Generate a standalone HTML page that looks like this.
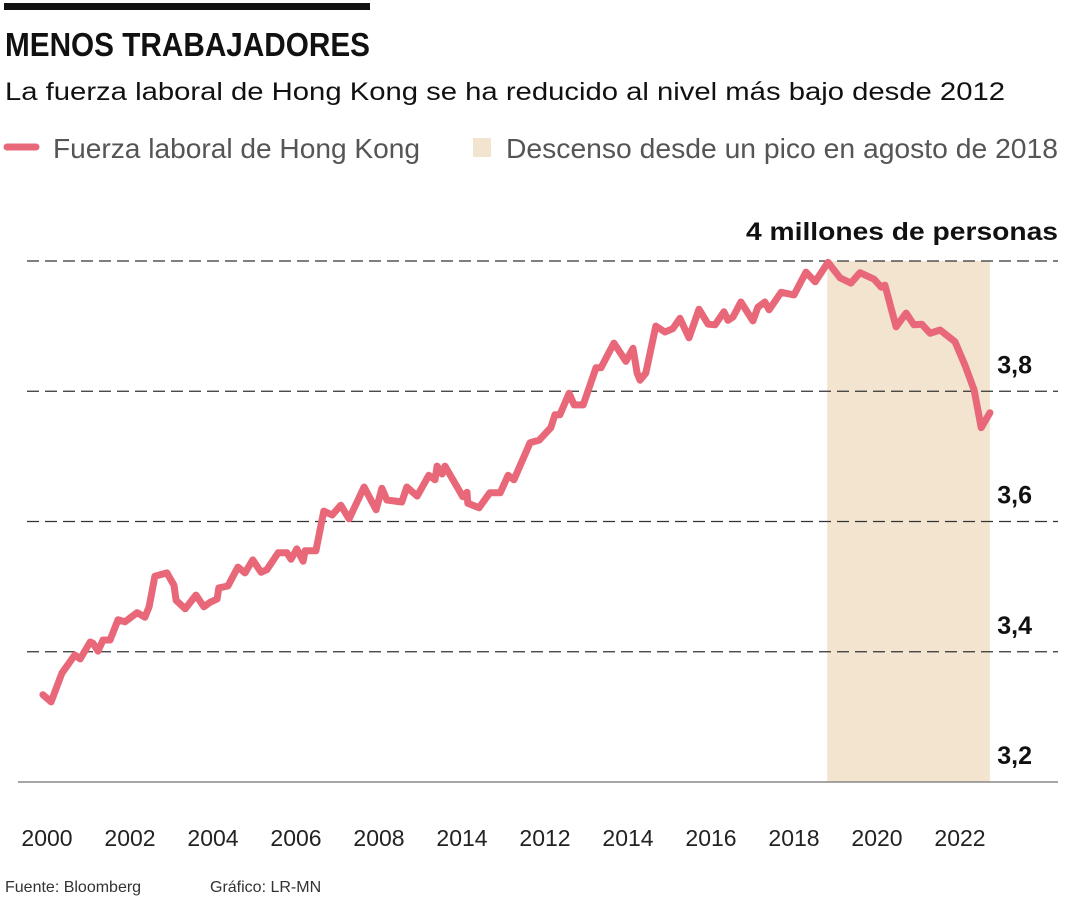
<!DOCTYPE html>
<html><head><meta charset="utf-8"><style>
html,body{margin:0;padding:0;background:#fff;width:1080px;height:900px;overflow:hidden}
svg{display:block;font-family:"Liberation Sans",sans-serif}
</style></head><body>
<svg id="chart" width="1080" height="900" viewBox="0 0 1080 900">
<rect x="4" y="3" width="366" height="7" fill="#111"/>
<text x="5" y="56" font-size="33" font-weight="bold" fill="#111" textLength="365" lengthAdjust="spacingAndGlyphs">MENOS TRABAJADORES</text>
<text x="5" y="100" font-size="25" fill="#111" textLength="1000" lengthAdjust="spacingAndGlyphs">La fuerza laboral de Hong Kong se ha reducido al nivel más bajo desde 2012</text>
<g>
<line x1="7" y1="147" x2="36" y2="147" stroke="#e8687a" stroke-width="7" stroke-linecap="round"/>
<text x="53" y="158" font-size="28" fill="#555" textLength="367" lengthAdjust="spacingAndGlyphs">Fuerza laboral de Hong Kong</text>
<rect x="473" y="138" width="18" height="19" fill="#f3e4d0"/>
<text x="506" y="158" font-size="28" fill="#555" textLength="552" lengthAdjust="spacingAndGlyphs">Descenso desde un pico en agosto de 2018</text>
</g>
<g id="plot"></g>
<text x="1058" y="240" font-size="25" font-weight="bold" fill="#111" text-anchor="end" textLength="312" lengthAdjust="spacingAndGlyphs">4 millones de personas</text>
<text x="5" y="892" font-size="16" fill="#333">Fuente: Bloomberg</text>
<text x="210" y="892" font-size="16" fill="#333">Gráfico: LR-MN</text>
</svg>
<script>
const years = [1999.90,2000.10,2000.36,2000.67,2000.80,2001.04,2001.11,2001.23,2001.35,2001.52,2001.71,2001.88,2002.17,2002.36,2002.46,2002.60,2002.89,2003.06,2003.11,2003.33,2003.59,2003.78,2003.93,2004.10,2004.14,2004.36,2004.60,2004.77,2004.96,2005.16,2005.30,2005.57,2005.78,2005.88,2006.02,2006.17,2006.22,2006.48,2006.67,2006.87,2007.08,2007.28,2007.64,2007.93,2008.07,2008.19,2008.55,2008.67,2008.92,2009.20,2009.35,2009.40,2009.52,2009.59,2010.02,2010.12,2010.14,2010.41,2010.67,2010.92,2011.11,2011.25,2011.64,2011.86,2012.14,2012.24,2012.36,2012.58,2012.70,2012.92,2013.23,2013.35,2013.66,2013.95,2014.12,2014.22,2014.29,2014.43,2014.67,2014.89,2015.08,2015.25,2015.47,2015.71,2015.93,2016.10,2016.31,2016.41,2016.53,2016.72,2017.01,2017.13,2017.30,2017.40,2017.69,2018.00,2018.29,2018.51,2018.82,2019.11,2019.37,2019.59,2019.93,2020.10,2020.19,2020.46,2020.70,2020.89,2021.08,2021.28,2021.52,2021.88,2022.12,2022.34,2022.51,2022.72];
const laborForce = [3.334,3.323,3.367,3.395,3.389,3.415,3.413,3.401,3.418,3.418,3.449,3.446,3.460,3.453,3.469,3.516,3.521,3.502,3.479,3.466,3.487,3.469,3.476,3.481,3.498,3.501,3.530,3.521,3.541,3.522,3.526,3.552,3.552,3.542,3.558,3.539,3.555,3.555,3.616,3.610,3.625,3.604,3.653,3.618,3.651,3.633,3.630,3.653,3.639,3.671,3.664,3.685,3.673,3.685,3.638,3.645,3.628,3.621,3.644,3.644,3.671,3.664,3.721,3.725,3.744,3.764,3.764,3.797,3.779,3.779,3.836,3.836,3.874,3.846,3.866,3.828,3.817,3.828,3.900,3.891,3.896,3.912,3.882,3.926,3.903,3.902,3.922,3.909,3.914,3.937,3.908,3.929,3.937,3.925,3.952,3.948,3.983,3.968,3.998,3.974,3.966,3.982,3.972,3.960,3.963,3.899,3.920,3.902,3.903,3.889,3.894,3.876,3.840,3.802,3.744,3.767];
const shadeRange = [2018.8, 2022.72];
const yTicks = [3.2,3.4,3.6,3.8,4.0];
const yTickLabels = ["3,2","3,4","3,6","3,8",""];
const xTicks = [2000,2002,2004,2006,2008,2010,2012,2014,2016,2018,2020,2022];
const xTickLabels = ["2000","2002","2004","2006","2008","2014","2012","2014","2016","2018","2020","2022"];

const NS="http://www.w3.org/2000/svg";
const xS = v => 47 + (v-2000)*41.5;
const yS = v => 782 - (v-3.2)*651.25;
const plot=document.getElementById('plot');
function mk(tag,attrs){const e=document.createElementNS(NS,tag);for(const k in attrs)e.setAttribute(k,attrs[k]);plot.appendChild(e);return e;}

const sh=mk('rect',{x:xS(shadeRange[0]),y:yS(4.0),width:xS(shadeRange[1])-xS(shadeRange[0]),height:yS(3.2)-yS(4.0),fill:'#f3e4d0'});



yTicks.forEach((t,i)=>{
  const y=yS(t);
  if(t===3.2){
    const l=mk('line',{x1:18,x2:1058,y1:y,y2:y,stroke:'#888','stroke-width':1.5});
    
    
  } else {
    const l=mk('line',{x1:27,x2:1058,y1:y,y2:y,stroke:'#333','stroke-width':1.2,'stroke-dasharray':'12 6'});
    
    
  }
  if(yTickLabels[i]){
    const tx=mk('text',{x:1032,y:y-18,'font-size':25,'font-weight':'bold',fill:'#111','text-anchor':'end'});
    tx.textContent=yTickLabels[i];
    
    
  }
});

xTicks.forEach((t,i)=>{
  const tx=mk('text',{x:xS(t),y:846,'font-size':23,fill:'#222','text-anchor':'middle'});
  tx.textContent=xTickLabels[i];
  
  
});

const d=years.map((v,i)=>(i?'L':'M')+xS(v).toFixed(1)+','+yS(laborForce[i]).toFixed(1)).join(' ');
const p=mk('path',{d:d,fill:'none',stroke:'#e8687a','stroke-width':7,'stroke-linejoin':'round','stroke-linecap':'round'});


</script>
</body></html>
